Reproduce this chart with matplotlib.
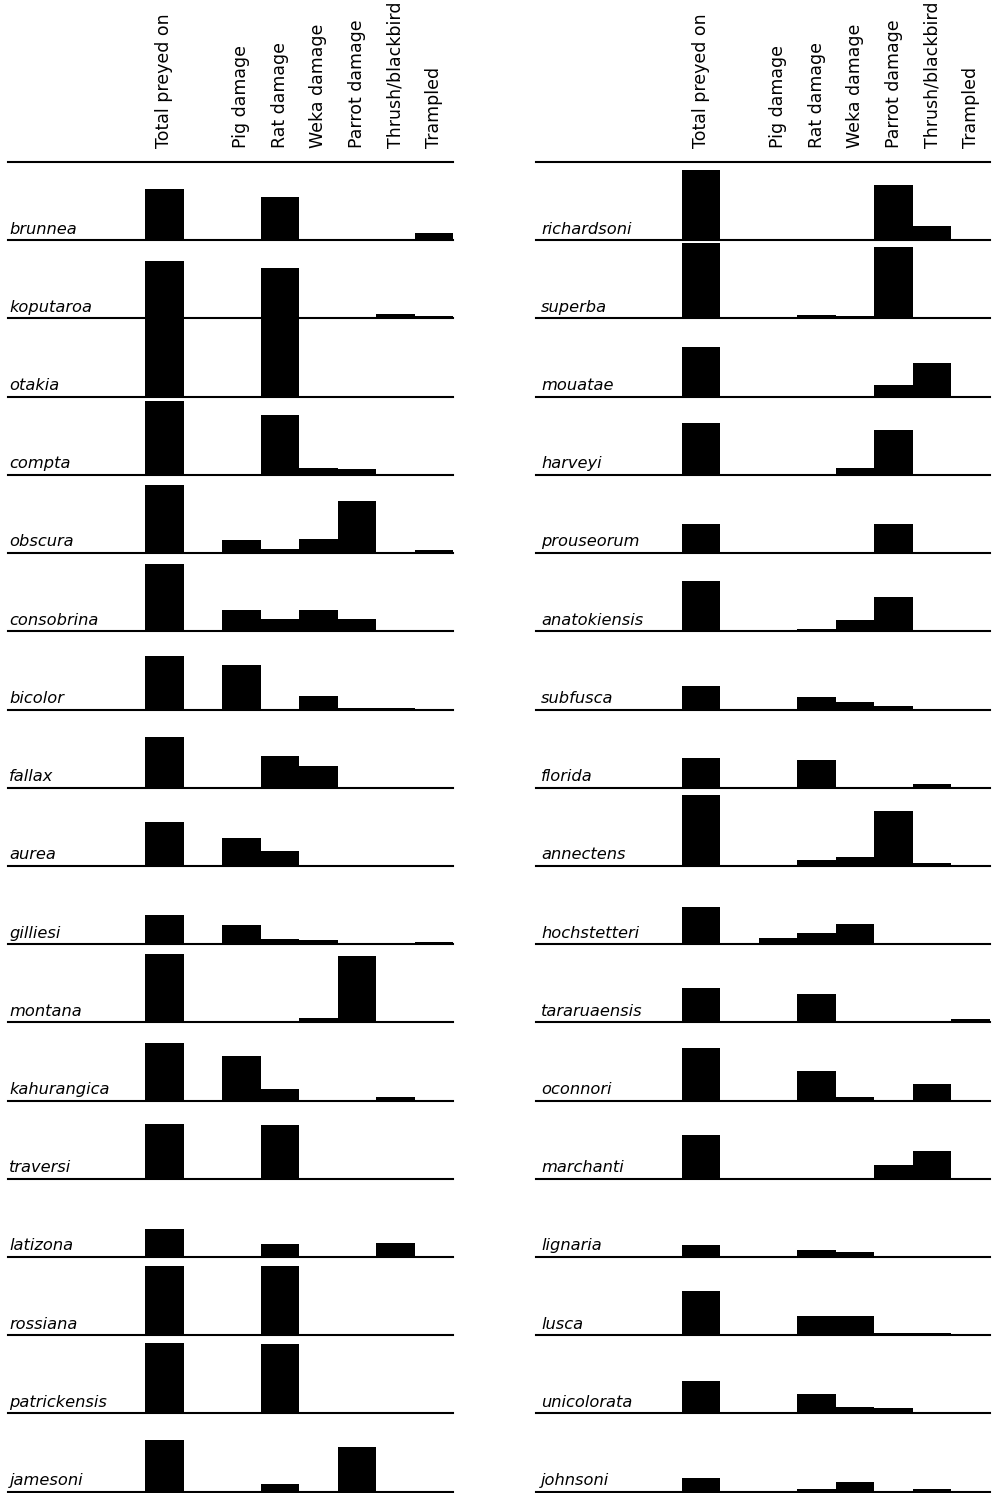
import matplotlib
matplotlib.use("Agg")
import matplotlib.pyplot as plt

# damage categories (column order)
categories = ["Total preyed on", "Pig damage", "Rat damage", "Weka damage",
              "Parrot damage", "Thrush/blackbird", "Trampled"]
cat_pos = [0, 2, 3, 4, 5, 6, 7]

left_species = ["brunnea", "koputaroa", "otakia", "compta", "obscura",
                "consobrina", "bicolor", "fallax", "aurea", "gilliesi",
                "montana", "kahurangica", "traversi", "latizona", "rossiana",
                "patrickensis", "jamesoni"]
# % per category: total, pig, rat, weka, parrot, thrush, trampled
left_values = [
    [65, 0, 55, 0, 0, 0, 9],
    [74, 0, 65, 0, 0, 6, 3],
    [100, 0, 100, 0, 0, 0, 0],
    [94, 0, 76, 9, 8, 0, 0],
    [87, 17, 5, 18, 67, 0, 4],
    [86, 27, 16, 27, 16, 0, 0],
    [69, 57, 1, 17, 2, 2, 0],
    [65, 0, 40, 28, 0, 0, 0],
    [56, 36, 19, 0, 0, 0, 0],
    [37, 25, 7, 5, 0, 0, 3],
    [88, 0, 0, 5, 85, 0, 0],
    [74, 57, 15, 0, 0, 4, 0],
    [70, 0, 69, 0, 0, 0, 0],
    [36, 0, 17, 0, 0, 18, 0],
    [88, 0, 88, 0, 0, 0, 0],
    [90, 0, 89, 0, 0, 0, 0],
    [66, 0, 10, 0, 57, 0, 0],
]

right_species = ["richardsoni", "superba", "mouatae", "harveyi", "prouseorum",
                 "anatokiensis", "subfusca", "florida", "annectens",
                 "hochstetteri", "tararuaensis", "oconnori", "marchanti",
                 "lignaria", "lusca", "unicolorata", "johnsoni"]
right_values = [
    [90, 0, 0, 0, 70, 18, 0],
    [96, 0, 5, 3, 91, 0, 0],
    [63, 0, 0, 0, 15, 43, 0],
    [66, 0, 0, 9, 58, 0, 0],
    [37, 0, 0, 0, 37, 0, 0],
    [64, 0, 3, 15, 44, 0, 0],
    [30, 0, 16, 10, 5, 0, 0],
    [38, 0, 35, 0, 0, 5, 0],
    [91, 0, 8, 12, 70, 4, 0],
    [48, 8, 14, 26, 0, 0, 0],
    [44, 0, 36, 0, 0, 0, 4],
    [67, 0, 38, 5, 0, 21, 0],
    [56, 0, 0, 0, 18, 35, 0],
    [16, 0, 9, 7, 0, 0, 0],
    [56, 0, 25, 24, 3, 3, 0],
    [42, 0, 25, 8, 7, 0, 0],
    [18, 0, 3, 13, 0, 3, 0],
]

W, H = 992, 1493
fig = plt.figure(figsize=(W / 100, H / 100), dpi=100)

top = 162.0
row_h = (1491.7 - top) / 17


def panel(species, values, x0, x1, xmin, label_x):
    for i, (name, vals) in enumerate(zip(species, values)):
        ybot = top + (i + 1) * row_h
        ax = fig.add_axes([x0 / W, 1 - ybot / H, (x1 - x0) / W, row_h / H])
        ax.bar(cat_pos, vals, width=1, align="edge", color="black",
               linewidth=0, clip_on=False)
        ax.set_xlim(xmin, 8)
        ax.set_ylim(0, 100)
        ax.set_xticks([])
        ax.set_yticks([])
        ax.patch.set_alpha(0)
        for s in ["left", "right", "top"]:
            ax.spines[s].set_visible(False)
        ax.spines["bottom"].set_linewidth(1.5)
        ax.text(label_x, 0.085, name, transform=ax.transAxes, style="italic",
                fontsize=11.7, va="baseline", ha="left")
        if i == 0:
            ax.spines["top"].set_visible(True)
            ax.spines["top"].set_linewidth(1.5)
            for p, c in zip(cat_pos, categories):
                ax.text(p + 0.5, 1.18, c, rotation=90, ha="center",
                        va="bottom", fontsize=12.5,
                        transform=ax.get_xaxis_transform())


panel(left_species, left_values, 8, 453, -3.56, 0.003)
panel(right_species, right_values, 536, 990, -3.79, 0.011)

fig.savefig("out.png", dpi=100)
